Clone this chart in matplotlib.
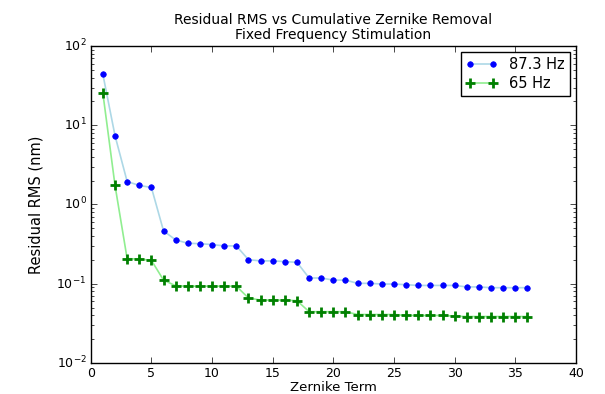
import numpy as np
import matplotlib
matplotlib.use("Agg")
import matplotlib.pyplot as plt

plt.style.use("classic")

terms = np.arange(1, 37)
rms_873 = [44.0, 7.4, 1.95, 1.74, 1.64, 0.464, 0.357, 0.324, 0.320, 0.312, 0.300, 0.300,
           0.201, 0.194, 0.194, 0.190, 0.186, 0.118, 0.118, 0.111, 0.111, 0.101, 0.101, 0.099,
           0.099, 0.097, 0.095, 0.095, 0.095, 0.095, 0.091, 0.091, 0.089, 0.089, 0.089, 0.089]
rms_65 = [25.4, 1.74, 0.207, 0.205, 0.197, 0.111, 0.094, 0.093, 0.093, 0.093, 0.093, 0.093,
          0.066, 0.062, 0.062, 0.062, 0.061, 0.0443, 0.0443, 0.0443, 0.0443, 0.0408, 0.0408, 0.0408,
          0.0408, 0.0397, 0.0397, 0.0397, 0.0397, 0.039, 0.0385, 0.0385, 0.0385, 0.0385, 0.0385, 0.0385]

fig = plt.figure(figsize=(6.05, 3.94), dpi=100, facecolor="white")
ax = fig.add_axes([0.150, 0.079, 0.802, 0.804])

ax.semilogy(terms, rms_873, "-o", color="lightblue", mfc="blue", mec="blue",
            ms=4, lw=1.2, label="87.3 Hz")
ax.semilogy(terms, rms_65, "-+", color="lightgreen", mfc="green", mec="green",
            ms=7, mew=2, lw=1.2, label="65 Hz")

ax.set_xlim(0, 40)
ax.set_ylim(1e-2, 1e2)
ax.set_xlabel("Zernike Term", fontsize=9.5, labelpad=1)
ax.set_ylabel("Residual RMS (nm)", fontsize=10.5, labelpad=9)
ax.tick_params(labelsize=9, pad=3)
ax.set_title("Residual RMS vs Cumulative Zernike Removal\nFixed Frequency Stimulation",
             fontsize=10, linespacing=1.15, pad=5)
ax.legend(loc="upper right", fontsize=10.5, numpoints=2, handlelength=2.2,
          borderaxespad=0.4, labelspacing=0.25, borderpad=0.35, handletextpad=0.8)

fig.savefig("out.png", dpi=100, facecolor="white")
